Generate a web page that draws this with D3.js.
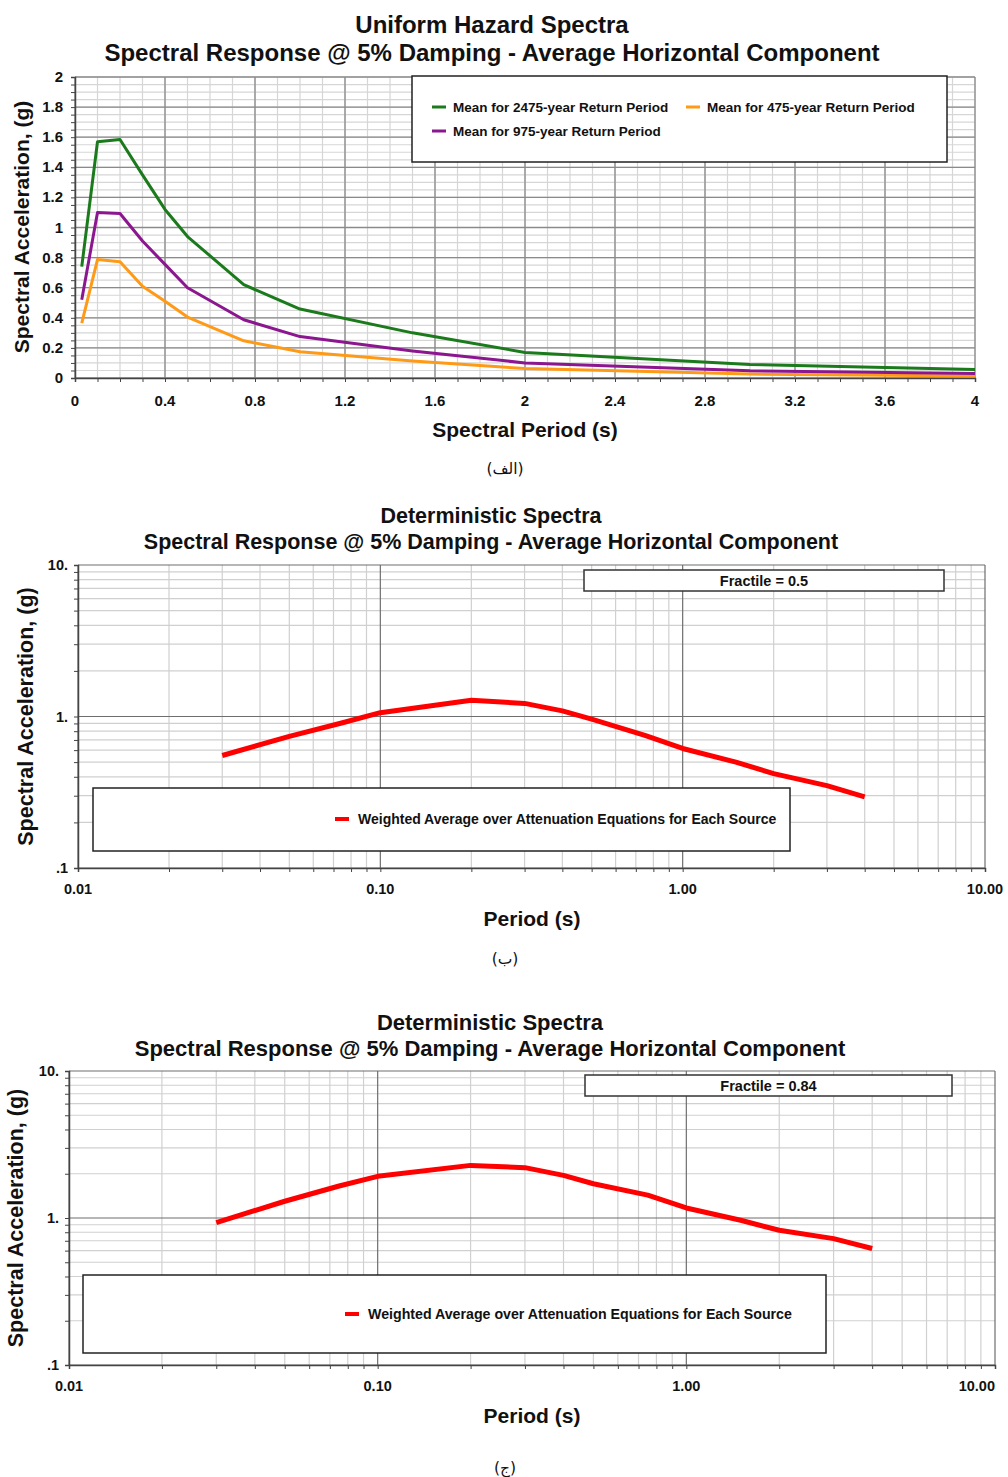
<!DOCTYPE html>
<html>
<head>
<meta charset="utf-8">
<script src="https://cdn.jsdelivr.net/npm/d3@7"></script>
<style>
  body { margin: 0; background: #fff; }
  svg { display: block; }
  text { font-family: Arial, "Liberation Sans", sans-serif; font-weight: bold; fill: #111; }
  .cap { font-family: "DejaVu Sans", "Noto Sans", sans-serif; font-weight: normal; }
</style>
</head>
<body>
<svg id="chart" width="1008" height="1477"></svg>
<script>
`use strict`;

// uniform hazard spectra (panel الف)
const uhsPeriods = [0.03, 0.1, 0.2, 0.3, 0.4, 0.5, 0.75, 1.0, 1.5, 2.0, 3.0, 4.0];
const mean2475 = [0.74, 1.57, 1.585, 1.35, 1.12, 0.94, 0.62, 0.458, 0.30, 0.17, 0.09, 0.057];
const mean975 = [0.52, 1.10, 1.093, 0.91, 0.755, 0.60, 0.387, 0.275, 0.18, 0.10, 0.048, 0.03];
const mean475 = [0.365, 0.787, 0.772, 0.61, 0.51, 0.405, 0.247, 0.175, 0.113, 0.063, 0.026, 0.013];
const uhsXTicks = [0, 0.4, 0.8, 1.2, 1.6, 2, 2.4, 2.8, 3.2, 3.6, 4];
const uhsYTicks = [0, 0.2, 0.4, 0.6, 0.8, 1, 1.2, 1.4, 1.6, 1.8, 2];

// deterministic spectra (panels ب, ج)
const detPeriods = [0.03, 0.05, 0.075, 0.1, 0.2, 0.3, 0.4, 0.5, 0.75, 1.0, 1.5, 2.0, 3.0, 4.0];
const fractile50 = [0.553, 0.74, 0.91, 1.06, 1.28, 1.22, 1.09, 0.96, 0.75, 0.615, 0.50, 0.42, 0.35, 0.295];
const fractile84 = [0.93, 1.3, 1.65, 1.92, 2.28, 2.20, 1.95, 1.71, 1.43, 1.17, 0.965, 0.825, 0.724, 0.62];
const logXTicks = [0.01, 0.1, 1, 10];
const logXLabels = [`0.01`, `0.10`, `1.00`, `10.00`];
const logYTicks = [0.1, 1, 10];
const logYLabels = [`.1`, `1.`, `10.`];

const svg = d3.select(`#chart`);

const titleLine = (g, x, y, txt, size) => {
  g.append(`text`).attr(`x`, x).attr(`y`, y).attr(`text-anchor`, `middle`)
    .style(`font-size`, size + `px`).text(txt);
};

// ---------- panel 1 : linear ----------
let drawUHS = () => {

  let L = 75, R = 975, T = 77, B = 378;

  let x = d3.scaleLinear().domain([0, 4]).range([L, R]);
  let y = d3.scaleLinear().domain([0, 2]).range([B, T]);

  let g = svg.append(`g`);

  let minorY = d3.range(0, 2.0001, 0.05);
  let minorX = d3.range(0, 4.0001, 0.1);

  g.selectAll(`line.hmin`).data(minorY).enter().append(`line`)
    .attr(`x1`, L).attr(`x2`, R).attr(`y1`, d => y(d)).attr(`y2`, d => y(d))
    .attr(`stroke`, `#d6d6d6`).attr(`stroke-width`, 1.2);

  g.selectAll(`line.vmin`).data(minorX).enter().append(`line`)
    .attr(`y1`, T).attr(`y2`, B).attr(`x1`, d => x(d)).attr(`x2`, d => x(d))
    .attr(`stroke`, `#d6d6d6`).attr(`stroke-width`, 1.2);

  g.selectAll(`line.hmaj`).data(uhsYTicks).enter().append(`line`)
    .attr(`x1`, L).attr(`x2`, R).attr(`y1`, d => y(d)).attr(`y2`, d => y(d))
    .attr(`stroke`, `#8a8a8a`).attr(`stroke-width`, 1.3);

  g.selectAll(`line.vmaj`).data(uhsXTicks).enter().append(`line`)
    .attr(`y1`, T).attr(`y2`, B).attr(`x1`, d => x(d)).attr(`x2`, d => x(d))
    .attr(`stroke`, `#8a8a8a`).attr(`stroke-width`, 1.3);

  // axes
  let ax = g.append(`g`).attr(`transform`, `translate(0,${B})`)
    .call(d3.axisBottom(x).tickValues(minorX).tickSize(4).tickFormat(``));
  ax.select(`.domain`).attr(`stroke`, `#444`).attr(`stroke-width`, 1.5);
  ax.selectAll(`line`).attr(`stroke`, `#444`);

  let ay = g.append(`g`).attr(`transform`, `translate(${L},0)`)
    .call(d3.axisLeft(y).tickValues(minorY).tickSize(4).tickFormat(``));
  ay.select(`.domain`).attr(`stroke`, `#444`).attr(`stroke-width`, 1.5);
  ay.selectAll(`line`).attr(`stroke`, `#444`);

  g.selectAll(`text.xl`).data(uhsXTicks).enter().append(`text`)
    .attr(`x`, d => x(d)).attr(`y`, B + 28).attr(`text-anchor`, `middle`)
    .style(`font-size`, `15px`).text(d => d3.format(`~g`)(d));

  g.selectAll(`text.yl`).data(uhsYTicks).enter().append(`text`)
    .attr(`x`, L - 12).attr(`y`, d => y(d) + 5).attr(`text-anchor`, `end`)
    .style(`font-size`, `15px`).text(d => d3.format(`~g`)(d));

  let line = d3.line().x(d => x(d[0])).y(d => y(d[1]));

  let series = [
    {vals: mean2475, c: `#1b7a1b`},
    {vals: mean975, c: `#8b168f`},
    {vals: mean475, c: `#ff9a17`}
  ];

  series.slice().reverse().forEach(s => {
    g.append(`path`).datum(d3.zip(uhsPeriods, s.vals))
      .attr(`d`, line).attr(`fill`, `none`)
      .attr(`stroke`, s.c).attr(`stroke-width`, 3).attr(`stroke-linejoin`, `round`);
  });

  // legend
  g.append(`rect`).attr(`x`, 412).attr(`y`, 76).attr(`width`, 535).attr(`height`, 86)
    .attr(`fill`, `#fff`).attr(`stroke`, `#222`).attr(`stroke-width`, 1.5);

  let leg = [
    {t: `Mean for 2475-year Return Period`, c: `#1b7a1b`, x: 432, y: 107},
    {t: `Mean for 475-year Return Period`, c: `#ff9a17`, x: 686, y: 107},
    {t: `Mean for 975-year Return Period`, c: `#8b168f`, x: 432, y: 131}
  ];

  leg.forEach(l => {
    g.append(`line`).attr(`x1`, l.x).attr(`x2`, l.x + 14).attr(`y1`, l.y).attr(`y2`, l.y)
      .attr(`stroke`, l.c).attr(`stroke-width`, 3);
    g.append(`text`).attr(`x`, l.x + 21).attr(`y`, l.y + 5)
      .style(`font-size`, `13.5px`).text(l.t);
  });

  titleLine(g, 492, 33, `Uniform Hazard Spectra`, 24);
  titleLine(g, 492, 61, `Spectral Response @ 5% Damping - Average Horizontal Component`, 24);

  g.append(`text`).attr(`transform`, `translate(29,227) rotate(-90)`).attr(`text-anchor`, `middle`)
    .style(`font-size`, `21px`).text(`Spectral Acceleration, (g)`);

  g.append(`text`).attr(`x`, 525).attr(`y`, 437).attr(`text-anchor`, `middle`)
    .style(`font-size`, `21px`).text(`Spectral Period (s)`);

  g.append(`text`).attr(`class`, `cap`).attr(`x`, 505).attr(`y`, 474).attr(`text-anchor`, `middle`)
    .style(`font-size`, `15.5px`).text(`(الف)`);
};

// ---------- panels 2, 3 : log-log ----------
let drawDet = cfg => {

  let {L, R, T, B} = cfg;

  let x = d3.scaleLog().domain([0.01, 10]).range([L, R]);
  let y = d3.scaleLog().domain([0.1, 10]).range([B, T]);

  let g = svg.append(`g`);

  let minorX = x.ticks().filter(d => logXTicks.indexOf(d) < 0);
  let minorY = y.ticks().filter(d => logYTicks.indexOf(d) < 0);

  g.selectAll(`line.hmin`).data(minorY).enter().append(`line`)
    .attr(`x1`, L).attr(`x2`, R).attr(`y1`, d => y(d)).attr(`y2`, d => y(d))
    .attr(`stroke`, `#d0d0d0`).attr(`stroke-width`, 1.2);

  g.selectAll(`line.vmin`).data(minorX).enter().append(`line`)
    .attr(`y1`, T).attr(`y2`, B).attr(`x1`, d => x(d)).attr(`x2`, d => x(d))
    .attr(`stroke`, `#d0d0d0`).attr(`stroke-width`, 1.2);

  g.selectAll(`line.hmaj`).data(logYTicks).enter().append(`line`)
    .attr(`x1`, L).attr(`x2`, R).attr(`y1`, d => y(d)).attr(`y2`, d => y(d))
    .attr(`stroke`, `#6e6e6e`).attr(`stroke-width`, 1.2);

  g.selectAll(`line.vmaj`).data(logXTicks).enter().append(`line`)
    .attr(`y1`, T).attr(`y2`, B).attr(`x1`, d => x(d)).attr(`x2`, d => x(d))
    .attr(`stroke`, `#6e6e6e`).attr(`stroke-width`, 1.2);

  let ax = g.append(`g`).attr(`transform`, `translate(0,${B})`)
    .call(d3.axisBottom(x).tickValues(x.ticks()).tickSize(4).tickFormat(``));
  ax.select(`.domain`).attr(`stroke`, `#444`).attr(`stroke-width`, 1.5);
  ax.selectAll(`line`).attr(`stroke`, `#444`);

  let ay = g.append(`g`).attr(`transform`, `translate(${L},0)`)
    .call(d3.axisLeft(y).tickValues(y.ticks()).tickSize(4).tickFormat(``));
  ay.select(`.domain`).attr(`stroke`, `#444`).attr(`stroke-width`, 1.5);
  ay.selectAll(`line`).attr(`stroke`, `#444`);

  // last label hugs the page edge so it stays inside
  g.selectAll(`text.xl`).data(logXTicks).enter().append(`text`)
    .attr(`x`, d => Math.min(x(d), 1007)).attr(`y`, B + 26)
    .attr(`text-anchor`, d => x(d) + 18 > 1007 ? `end` : `middle`)
    .style(`font-size`, `14.5px`).text((d, i) => logXLabels[i]);

  g.selectAll(`text.yl`).data(logYTicks).enter().append(`text`)
    .attr(`x`, L - 10).attr(`y`, d => y(d) + 5).attr(`text-anchor`, `end`)
    .style(`font-size`, `14.5px`).text((d, i) => logYLabels[i]);

  let line = d3.line().x(d => x(d[0])).y(d => y(d[1]));

  g.append(`path`).datum(d3.zip(detPeriods, cfg.vals))
    .attr(`d`, line).attr(`fill`, `none`)
    .attr(`stroke`, `#ff0000`).attr(`stroke-width`, 5).attr(`stroke-linejoin`, `round`);

  // fractile label box
  let fb = cfg.frac;
  g.append(`rect`).attr(`x`, fb.x).attr(`y`, fb.y).attr(`width`, fb.w).attr(`height`, fb.h)
    .attr(`fill`, `#fff`).attr(`stroke`, `#333`).attr(`stroke-width`, 1.5);
  g.append(`text`).attr(`x`, fb.x + fb.w / 2).attr(`y`, fb.y + fb.h / 2 + 5).attr(`text-anchor`, `middle`)
    .style(`font-size`, `14.5px`).text(fb.t);

  // legend
  let lb = cfg.leg;
  g.append(`rect`).attr(`x`, lb.x).attr(`y`, lb.y).attr(`width`, lb.w).attr(`height`, lb.h)
    .attr(`fill`, `#fff`).attr(`stroke`, `#222`).attr(`stroke-width`, 1.5);
  g.append(`line`).attr(`x1`, lb.mx).attr(`x2`, lb.mx + 14).attr(`y1`, lb.my).attr(`y2`, lb.my)
    .attr(`stroke`, `#ff0000`).attr(`stroke-width`, 4);
  g.append(`text`).attr(`x`, lb.mx + 23).attr(`y`, lb.my + 5)
    .style(`font-size`, lb.fs + `px`).text(`Weighted Average over Attenuation Equations for Each Source`);

  titleLine(g, cfg.tx, cfg.ty, `Deterministic Spectra`, cfg.tfs);
  titleLine(g, cfg.tx, cfg.ty + 26, `Spectral Response @ 5% Damping - Average Horizontal Component`, cfg.tfs);

  g.append(`text`).attr(`transform`, `translate(${cfg.yx},${(T + B) / 2}) rotate(-90)`).attr(`text-anchor`, `middle`)
    .style(`font-size`, `21.5px`).text(`Spectral Acceleration, (g)`);

  g.append(`text`).attr(`x`, 532).attr(`y`, B + 58).attr(`text-anchor`, `middle`)
    .style(`font-size`, `21px`).text(`Period (s)`);

  g.append(`text`).attr(`class`, `cap`).attr(`x`, 505).attr(`y`, cfg.cy).attr(`text-anchor`, `middle`)
    .style(`font-size`, `15.5px`).text(cfg.cap);
};

drawUHS();

drawDet({
  L: 78, R: 985, T: 565, B: 868, vals: fractile50,
  frac: {x: 584, y: 570, w: 360, h: 21, t: `Fractile = 0.5`},
  leg: {x: 93, y: 788, w: 697, h: 63, mx: 335, my: 819, fs: 14},
  tx: 491, ty: 523, tfs: 21.5, yx: 33, cy: 964, cap: `(ب)`
});

drawDet({
  L: 69, R: 995, T: 1071, B: 1365, vals: fractile84,
  frac: {x: 585, y: 1075, w: 367, h: 21, t: `Fractile = 0.84`},
  leg: {x: 83, y: 1275, w: 743, h: 78, mx: 345, my: 1314, fs: 14.2},
  tx: 490, ty: 1030, tfs: 22, yx: 23, cy: 1473, cap: `(ج)`
});
</script>
</body>
</html>
